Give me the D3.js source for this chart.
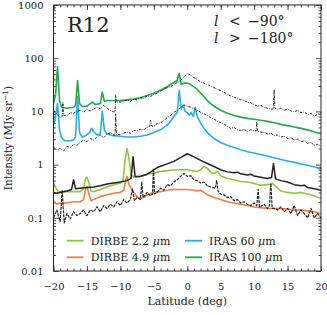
<!DOCTYPE html>
<html><head><meta charset="utf-8">
<script src="https://cdn.jsdelivr.net/npm/d3@7/dist/d3.min.js"></script>
<style>
body{margin:0;background:#fff}
svg{display:block}
</style>
</head><body>
<svg id="c" width="327" height="315"></svg>
<script>
// ---------- data ----------
const xTicks = [-20, -15, -10, -5, 0, 5, 10, 15, 20];
const yTicks = [0.01, 0.1, 1, 10, 100, 1000];
const yTickLabels = ["0.01", "0.1", "1", "10", "100", "1000"];

// upper dash-dot black curve [lat, value]
const modelUpper = [[-20,10.5],[-19.5,9],[-19,7.6],[-18.7,8],[-18.6,15],[-18.5,8.5],[-18,8.2],[-17.5,9.5],[-17,9.2],
  [-16.5,10],[-16,10.5],[-15.5,9.8],[-15,10.8],[-14.5,10.2],[-14,11],[-13.5,12],[-13,11.2],[-12.5,13],[-12,11.5],
  [-11.5,10.4],[-11,9.8],[-10.8,10],[-10.7,20],[-10.6,15],[-10,15],[-9.5,15.5],[-9,16.5],[-8.5,15.5],[-8,17],
  [-7.5,16.5],[-7,18],[-6.5,17.5],[-6,19.5],[-5.5,19],[-5,21],[-4.5,22],[-4,24],[-3.5,26],[-3,28],[-2.5,29],
  [-2,32],[-1.5,35],[-1,38],[-0.5,44],[0,52],[0.5,48],[1,43],[1.5,40],[2,36],[2.5,34],[3,32],[3.5,30],[4,28],
  [4.5,26],[5,24.5],[5.5,23],[6,21],[6.5,19.5],[7,18.5],[7.5,17.5],[8,16.5],[8.5,16],[9,15],[9.5,14.5],[10,13.5],
  [10.5,12.5],[11,13],[11.5,12],[12,11.5],[12.5,11],[12.9,11.2],[13,26],[13.1,11.5],[13.5,11],[14,11.5],
  [14.5,10.5],[15,11],[15.5,10.2],[16,9.8],[16.5,10.5],[17,9.5],[17.5,9.8],[18,8.8],[18.5,9.2],[19,8.2],
  [19.5,8.8],[20,9.5]];

// lower dash-dot black curve
const modelLower = [[-20,2.1],[-19.5,1.9],[-19,2.0],[-18.5,1.8],[-18,2.2],[-17.5,2.1],[-17,2.4],[-16.5,2.3],
  [-16,2.6],[-15.5,2.9],[-15,2.7],[-14.5,3.1],[-14,2.9],[-13.5,3.3],[-13,3.6],[-12.5,3.2],[-12,3.7],[-11.5,4.0],
  [-11,3.6],[-10.8,3.6],[-10.7,9],[-10.6,3.7],[-10,3.7],[-9.5,3.9],[-9,4.1],[-8.5,3.9],[-8,4.4],[-7.5,4.3],
  [-7,4.6],[-6.5,4.5],[-6,5.0],[-5.6,5.2],[-5.5,6.8],[-5.3,5.3],[-5,5.2],[-4.5,5.9],[-4,6.1],[-3.5,6.8],[-3,7.6],
  [-2.5,8.4],[-2,9.6],[-1.5,10.5],[-1,11.8],[-0.5,13.2],[0,12.5],[0.5,12],[1,11.2],[1.5,10.6],[2,9.6],[2.5,9],
  [3,8.4],[3.5,7.6],[4,7.2],[4.5,6.5],[5,6.2],[5.5,5.8],[6,5.2],[6.5,4.8],[7,5.0],[7.5,4.5],[8,4.4],[8.5,4.6],
  [9,4.2],[9.5,4.5],[10,4.3],[10.3,4.3],[10.4,6.4],[10.5,4.2],[11,4.1],[11.5,4.0],[12,3.8],[12.5,3.9],[13,3.5],
  [13.5,3.6],[14,3.3],[14.5,3.4],[15,3.1],[15.5,3.2],[16,2.9],[16.5,3.0],[17,2.7],[17.5,2.8],[18,2.5],
  [18.5,2.6],[19,2.3],[19.5,2.4],[20,2.2]];

// lower dashed black curve
const dashedLow = [[-20,0.1],[-19.5,0.14],[-19,0.085],[-18.7,0.33],[-18.4,0.08],[-18,0.12],[-17.5,0.095],[-17,0.13],
  [-16.5,0.11],[-16,0.12],[-15.5,0.14],[-15,0.11],[-14.5,0.14],[-14,0.13],[-13.5,0.16],[-13,0.13],[-12.5,0.17],
  [-12,0.15],[-11.5,0.18],[-11,0.16],[-10.5,0.2],[-10,0.17],[-9.5,0.22],[-9,0.19],[-8.5,0.22],[-8.2,0.35],
  [-7.9,0.21],[-7.5,0.24],[-7,0.22],[-6.8,0.47],[-6.6,0.24],[-6,0.3],[-5.5,0.26],[-5.2,0.28],[-5.05,0.85],
  [-4.9,0.28],[-4.5,0.3],[-4,0.36],[-3.5,0.33],[-3,0.42],[-2.5,0.4],[-2,0.47],[-1.5,0.52],[-1,0.6],[-0.5,0.68],
  [0,0.6],[0.5,0.62],[1,0.52],[1.5,0.5],[2,0.45],[2.5,0.47],[3,0.4],[3.5,0.38],[4.2,0.36],[4.4,0.5],[4.6,0.32],
  [5,0.28],[5.5,0.27],[6,0.24],[6.5,0.25],[7,0.21],[7.5,0.22],[8,0.19],[8.5,0.2],[9,0.18],[9.5,0.17],[10,0.19],
  [10.4,0.17],[10.6,0.34],[10.8,0.16],[11.5,0.18],[12,0.15],[12.3,0.17],[12.5,0.44],[12.7,0.15],[13,0.15],
  [13.5,0.14],[14,0.16],[14.5,0.13],[15,0.15],[15.5,0.12],[16,0.17],[16.5,0.11],[17,0.14],[17.5,0.12],[18,0.1],
  [18.5,0.15],[19,0.1],[19.5,0.12],[20,0.1]];

// solid black curve
const solidBlack = [[-20,0.3],[-19.5,0.29],[-19,0.3],[-18,0.32],[-17.3,0.34],[-17,0.52],[-16.7,0.35],[-16,0.36],[-15,0.37],
  [-14,0.38],[-13,0.4],[-12,0.43],[-11,0.45],[-10,0.47],[-9,0.5],[-8.4,0.55],[-8.1,1.4],[-7.8,0.6],[-7,0.6],
  [-6.5,0.63],[-6,0.66],[-5.5,0.72],[-5,0.8],[-4.5,0.88],[-4,0.93],[-3,1.03],[-2,1.15],[-1,1.35],[0,1.6],
  [0.5,1.5],[1,1.4],[2,1.2],[3,1.05],[4,0.92],[5,0.8],[6,0.73],[7,0.7],[7.5,0.72],[8,0.67],[9,0.64],[9.5,0.66],
  [10,0.61],[11,0.58],[12,0.55],[12.6,0.57],[12.9,1.05],[13.2,0.54],[14,0.5],[15,0.47],[16,0.42],[17,0.4],
  [17.5,0.41],[18,0.37],[19,0.35],[20,0.33]];

// IRAS 100 um
const iras100 = [[-20,14],[-19.7,20],[-19.4,70],[-19.1,16],[-18.8,12],[-18,11.5],[-17,12],[-16.7,13],[-16.4,38],
  [-16.1,14],[-15.7,12.5],[-15,12.5],[-14.5,14],[-14.2,15],[-13.8,13.5],[-13,14],[-12.7,23],[-12.4,15.5],
  [-12,16],[-11,16],[-10,16],[-9,16.5],[-8,17],[-7,18],[-6,20],[-5,22],[-4,25],[-3,29],[-2.5,32],[-2,35],
  [-1.5,38],[-1.2,52],[-0.9,32],[-0.5,34],[0,34],[0.5,32],[1,29],[1.5,26],[2,22],[2.5,19],[3,16],[3.5,14],
  [4,12.5],[5,10.5],[6,9.2],[7,8.4],[8,7.8],[9,7.4],[10,7.1],[11,6.8],[12,6.5],[13,6.1],[14,5.7],[15,5.4],
  [16,5.1],[17,4.8],[18,4.5],[19,4.1],[20,3.8]];

// IRAS 60 um
const iras60 = [[-20,5.5],[-19.7,8],[-19.4,14],[-19.1,4.5],[-18.8,3.2],[-18.3,2.8],[-17.5,2.8],[-17,2.9],[-16.7,3.3],
  [-16.4,19],[-16.1,4],[-15.7,3.3],[-15.2,3.5],[-14.6,4],[-14.3,4.8],[-14,4.2],[-13.5,3.6],[-13,3.8],[-12.7,10],
  [-12.4,4.5],[-12,3.8],[-11.5,3.6],[-11,3.5],[-10,3.4],[-9,3.3],[-8,3.3],[-7,3.4],[-6,3.6],[-5,4],[-4,4.5],
  [-3,5.5],[-2.5,6.5],[-2,8],[-1.5,9.5],[-1.2,25],[-0.9,11],[-0.6,13],[-0.3,10],[0,9.5],[0.3,8.5],[0.6,9.5],
  [0.9,8],[1.2,12],[1.5,8],[2,6],[2.5,4.8],[3,4],[3.5,3.5],[4,3.1],[5,2.6],[6,2.3],[7,2.1],[8,1.9],[9,1.75],
  [10,1.65],[11,1.55],[12,1.45],[13,1.35],[14,1.25],[15,1.17],[16,1.1],[17,1.03],[18,0.97],[19,0.9],[20,0.83]];

// DIRBE 2.2 um
const dirbe22 = [[-20,0.45],[-19.7,0.38],[-19.4,0.32],[-19,0.31],[-18,0.31],[-17,0.31],[-16,0.31],[-15.5,0.35],
  [-15.2,0.55],[-15,0.58],[-14.7,0.45],[-14.4,0.32],[-14,0.31],[-13,0.34],[-12,0.38],[-11,0.42],[-10,0.45],
  [-9.6,0.5],[-9.3,1.2],[-9,2.0],[-8.7,1.3],[-8.4,0.65],[-8,0.58],[-7,0.6],[-6,0.65],[-5,0.7],[-4,0.74],
  [-3,0.77],[-2,0.79],[-1,0.8],[0,0.8],[1,0.76],[1.5,0.74],[2,0.8],[2.5,0.92],[3,0.85],[3.5,0.72],[4,0.68],
  [4.5,0.75],[5,0.62],[6,0.55],[7,0.52],[8,0.48],[9,0.47],[10,0.44],[11,0.41],[12,0.42],[12.8,0.44],[13.3,0.38],
  [14,0.32],[15,0.3],[16,0.29],[17,0.3],[18,0.28],[19,0.26],[20,0.23]];

// DIRBE 4.9 um
const dirbe49 = [[-20,0.2],[-19.5,0.18],[-19,0.19],[-18,0.19],[-17,0.2],[-16,0.2],[-15.5,0.22],[-15.2,0.35],
  [-15,0.39],[-14.7,0.28],[-14.4,0.21],[-14,0.22],[-13,0.25],[-12,0.27],[-11,0.29],[-10,0.3],[-9.5,0.33],
  [-9.2,0.5],[-9,0.6],[-8.7,0.42],[-8.4,0.36],[-8,0.3],[-7.5,0.25],[-7,0.23],[-6.5,0.24],[-6,0.27],[-5,0.3],
  [-4,0.31],[-3,0.33],[-2,0.34],[-1,0.34],[0,0.34],[1,0.33],[1.5,0.32],[2,0.33],[2.5,0.3],[3,0.27],[4,0.24],
  [5,0.22],[6,0.2],[7,0.19],[8,0.18],[9,0.17],[10,0.16],[11,0.155],[12,0.15],[13,0.15],[14,0.15],[15,0.145],
  [16,0.14],[17,0.14],[18,0.135],[19,0.13],[20,0.12]];

const legendItems = [
  {label: "DIRBE 2.2 ", color: "#8dc63f"},
  {label: "DIRBE 4.9 ", color: "#f47c3c"},
  {label: "IRAS 60 ", color: "#27aee6"},
  {label: "IRAS 100 ", color: "#1fa84c"}
];

// ---------- drawing ----------
const FONT = "'DejaVu Serif', serif";
const svg = d3.select("#c").attr("font-family", FONT);
const L = 53.5, R = 321, T = 5, B = 271;
const x = d3.scaleLinear().domain([-20, 20]).range([L, R]);
const y = d3.scaleLog().domain([0.01, 1000]).range([B, T]);

const minorY = [];
[0.01, 0.1, 1, 10, 100].forEach(d => { for (let k = 2; k <= 9; k++) minorY.push(d * k); });
const minorX = d3.range(-20, 21, 1);
const fmtX = d => d < 0 ? "\u2212" + (-d) : String(d);

function axisG(gen, tx, ty) {
  const g = svg.append("g").attr("transform", `translate(${tx},${ty})`).call(gen);
  g.attr("font-family", FONT);
  g.select(".domain").remove();
  g.selectAll("line").attr("stroke", "#222").attr("stroke-width", 0.8);
  g.selectAll("text").attr("font-size", 10).attr("fill", "#222");
  return g;
}
axisG(d3.axisBottom(x).tickValues(xTicks).tickSize(-5).tickPadding(12).tickFormat(fmtX), 0, B);
axisG(d3.axisBottom(x).tickValues(minorX).tickSize(-2.5).tickFormat(""), 0, B);
axisG(d3.axisTop(x).tickValues(xTicks).tickSize(-5).tickFormat(""), 0, T);
axisG(d3.axisTop(x).tickValues(minorX).tickSize(-2.5).tickFormat(""), 0, T);
axisG(d3.axisLeft(y).tickValues(yTicks).tickSize(-5).tickPadding(10).tickFormat((d, i) => yTickLabels[i]), L, 0);
axisG(d3.axisLeft(y).tickValues(minorY).tickSize(-2.5).tickFormat(""), L, 0);
axisG(d3.axisRight(y).tickValues(yTicks).tickSize(-5).tickFormat(""), R, 0);
axisG(d3.axisRight(y).tickValues(minorY).tickSize(-2.5).tickFormat(""), R, 0);

svg.append("clipPath").attr("id", "pc").append("rect")
  .attr("x", L).attr("y", T).attr("width", R - L).attr("height", B - T);

const line = d3.line().x(d => x(d[0])).y(d => y(d[1]));
const plot = svg.append("g").attr("clip-path", "url(#pc)");

function draw(data, color, w, dash) {
  plot.append("path").datum(data).attr("d", line)
    .attr("fill", "none").attr("stroke", color).attr("stroke-width", w)
    .attr("stroke-linejoin", "round")
    .attr("stroke-dasharray", dash || null);
}

draw(dirbe49, legendItems[1].color, 1.6);
draw(dirbe22, legendItems[0].color, 1.6);
draw(iras60, legendItems[2].color, 1.6);
draw(iras100, legendItems[3].color, 1.6);
draw(solidBlack, "#222", 1.5);
draw(dashedLow, "#222", 1.2, "3,1");
draw(modelUpper, "#222", 1.0, "2.5,1.2,0.8,1.2");
draw(modelLower, "#222", 1.0, "2.5,1.2,0.8,1.2");

svg.append("rect").attr("x", L).attr("y", T).attr("width", R - L).attr("height", B - T)
  .attr("fill", "none").attr("stroke", "#222").attr("stroke-width", 1);

// legend
const legPos = [[66.7, 240.7], [66.7, 257.3], [185, 240.7], [185, 257.3]];
legendItems.forEach((d, i) => {
  const [lx, ly] = legPos[i];
  svg.append("line").attr("x1", lx).attr("x2", lx + 17).attr("y1", ly).attr("y2", ly)
    .attr("stroke", d.color).attr("stroke-width", 1.8);
  const t = svg.append("text").attr("x", lx + 24).attr("y", ly + 4).attr("font-size", 11).attr("fill", "#222");
  t.append("tspan").text(d.label);
  t.append("tspan").attr("font-style", "italic").text("\u03bc");
  t.append("tspan").text("m");
});

// labels
svg.append("text").attr("x", 67).attr("y", 32).attr("font-size", 21).attr("fill", "#222").text("R12");

[["<", "\u221290\u00b0", 26], [">", "\u2212180\u00b0", 43]].forEach(([op, v, yy]) => {
  const t = svg.append("text").attr("y", yy).attr("font-size", 14).attr("fill", "#222");
  t.append("tspan").attr("x", 214).attr("font-style", "italic").text("l");
  t.append("tspan").attr("x", 229).text(op);
  t.append("tspan").attr("x", 248).text(v);
});

svg.append("text").attr("x", (L + R) / 2).attr("y", 305).attr("font-size", 11).attr("fill", "#222")
  .attr("text-anchor", "middle").text("Latitude (deg)");

const yl = svg.append("text").attr("transform", `translate(12,${(T + B) / 2}) rotate(-90)`)
  .attr("font-size", 10.5).attr("text-anchor", "middle").attr("fill", "#222");
yl.append("tspan").text("Intensity (MJy sr");
yl.append("tspan").attr("font-size", 7.5).attr("dy", -4).text("\u22121");
yl.append("tspan").attr("dy", 4).text(")");
</script>
</body></html>
